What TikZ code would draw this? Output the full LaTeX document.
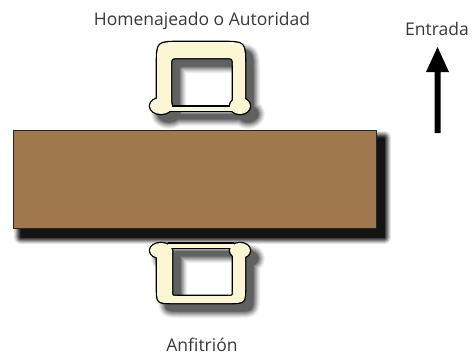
\documentclass[tikz,border=0pt]{standalone}
\usepackage{fontspec}
\setmainfont{Open Sans}
\begin{document}
\begin{tikzpicture}[x=1pt,y=-1pt,
  lbl/.style={font=\fontsize{17.5}{20}\selectfont, text=black!78, inner sep=0pt, anchor=base},
  chairfill/.style={fill=cream},
  chairline/.style={draw=black, line width=2.6pt, line join=round},
]
\definecolor{cream}{RGB}{251,247,212}
\definecolor{wood}{RGB}{160,120,77}
\useasboundingbox (0,0) rectangle (476,356);
% top chair components
\newcommand\tcA{(157,106) -- (157,65) .. controls (157,42) .. (180,42) -- (222,42) .. controls (245,42) .. (245,65) -- (245,106) -- (233,106) -- (233,66) .. controls (233,58) .. (225,58) -- (179,58) .. controls (171,58) .. (171,66) -- (171,106) -- cycle}
\newcommand\tcB{(161,106) ellipse [x radius=11pt, y radius=8pt]}
\newcommand\tcC{(240,106) ellipse [x radius=10pt, y radius=8pt]}
\newcommand\tcD{(168,106.5) rectangle (234,110.5)}
% bottom chair components
\newcommand\bcA{(157,250) -- (157,287) .. controls (157,303) .. (173,303) -- (229,303) .. controls (245,303) .. (245,287) -- (245,250) -- (233,250) -- (233,291) .. controls (233,296) .. (228,296) -- (177,296) .. controls (172,296) .. (172,291) -- (172,250) -- cycle}
\newcommand\bcB{(161,250.5) ellipse [x radius=11pt, y radius=7.5pt]}
\newcommand\bcC{(240,250.5) ellipse [x radius=10pt, y radius=7.5pt]}
\newcommand\bcD{(168,243.5) rectangle (234,247.5)}
% shadows
\foreach \r/\c in {7/6,6/12,5/20,4/29,3/38,2/47,1/56,0.5/62} {
  \begin{scope}[shift={(8,8)}, every path/.style={fill=black!\c, draw=black!\c, line width=2*\r pt, line join=round}]
    \path \tcA; \path \tcB; \path \tcC; \path \tcD;
    \path \bcA; \path \bcB; \path \bcC; \path \bcD;
  \end{scope}
}
\foreach \r/\c in {7/10,6/22,5/36,4/50,3/64,2/76,1/86,0.5/92} {
  \path[fill=black!\c, draw=black!\c, line width=2*\r pt, line join=round] (21,138) rectangle (384,237);
}
% table
\node[draw=black!85, line width=1.4pt, fill=wood, minimum width=363pt, minimum height=98pt, inner sep=0pt, anchor=north west] (table) at (13,130) {};
% chairs
\begin{scope}[every path/.style={chairline}]
  \path \tcA; \path \tcB; \path \tcC; \path \tcD;
  \path \bcA; \path \bcB; \path \bcC; \path \bcD;
\end{scope}
\begin{scope}[every path/.style={chairfill}]
  \path \tcA; \path \tcB; \path \tcC; \path \tcD;
  \path \bcA; \path \bcB; \path \bcC; \path \bcD;
\end{scope}
\coordinate (top) at (201,78);
\coordinate (bot) at (201,272);
% labels
\node[lbl] (hon) at (202,25.5) {Homenajeado o Autoridad};
\node[lbl] (anf) at (202,351) {Anfitrión};
\node[lbl] (ent) at (437,35.5) {Entrada};
% arrow
\coordinate (arrtip) at (437.5,47);
\fill[black] (434.5,133) -- (434.5,72) -- (426,72) -- (arrtip) -- (449,72) -- (440.5,72) -- (440.5,133) -- cycle;
\end{tikzpicture}
\end{document}
